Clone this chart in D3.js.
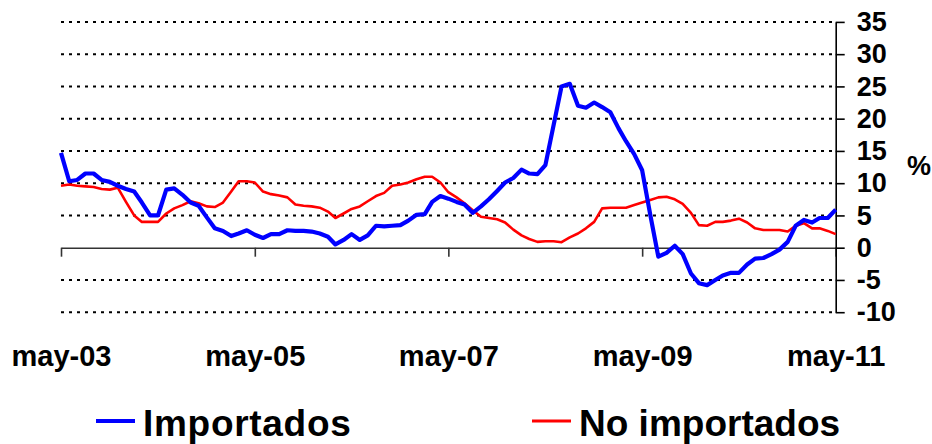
<!DOCTYPE html>
<html>
<head>
<meta charset="utf-8">
<script src="https://cdn.jsdelivr.net/npm/d3@7"></script>
<style>
  html, body { margin: 0; padding: 0; background: #ffffff; }
  svg { display: block; font-family: "Liberation Sans", Arial, sans-serif; }
</style>
</head>
<body>
<svg id="chart" width="932" height="444"></svg>
<script>
// Monthly year-on-year change (%), May 2003 – May 2011
const startMonth = new Date(2003, 4, 1);
const months = d3.timeMonth.range(startMonth, new Date(2011, 5, 1));

const importados = [
  14.7, 10.3, 10.5, 11.5, 11.5, 10.5, 10.2, 9.6, 9.1, 8.7, 7.0, 5.0,
  5.0, 9.0, 9.2, 8.2, 7.0, 6.5, 4.7, 3.0, 2.6, 1.8, 2.2, 2.7,
  2.0, 1.5, 2.1, 2.1, 2.7, 2.6, 2.6, 2.5, 2.2, 1.7, 0.5, 1.2,
  2.1, 1.2, 1.9, 3.4, 3.3, 3.4, 3.5, 4.2, 5.1, 5.2, 7.1, 8.0,
  7.6, 7.1, 6.7, 5.4, 6.4, 7.5, 8.8, 10.1, 10.8, 12.1, 11.5, 11.4,
  12.8, 19.0, 25.0, 25.4, 22.0, 21.7, 22.5, 21.8, 21.0, 18.5, 16.5, 14.5,
  12.0, 5.0, -1.4, -0.8, 0.3, -1.0, -4.0, -5.5, -5.8, -5.0, -4.3, -3.9,
  -3.9, -2.6, -1.7, -1.6, -1.0, -0.3, 0.9, 3.4, 4.3, 3.9, 4.6, 4.6,
  5.9
];

const noImportados = [
  9.6, 9.8, 9.6, 9.5, 9.4, 9.1, 9.0, 9.3, 7.1, 5.0, 4.0, 4.0,
  4.0, 5.3, 6.1, 6.6, 7.2, 6.9, 6.4, 6.3, 7.0, 8.7, 10.3, 10.3,
  10.1, 8.7, 8.3, 8.1, 7.8, 6.7, 6.5, 6.4, 6.2, 5.6, 4.6, 5.3,
  6.0, 6.4, 7.2, 8.0, 8.5, 9.6, 9.8, 10.1, 10.6, 11.0, 11.0, 10.1,
  8.6, 7.8, 6.9, 5.8, 4.8, 4.6, 4.4, 3.9, 2.8, 1.9, 1.35, 0.9,
  1.0, 1.0, 0.85, 1.6, 2.2, 3.0, 4.0, 6.1, 6.2, 6.2, 6.2, 6.6,
  7.0, 7.4, 7.8, 7.9, 7.5, 6.8, 5.4, 3.5, 3.4, 4.0, 4.0, 4.2,
  4.5, 3.9, 3.0, 2.75, 2.75, 2.75, 2.5, 3.4, 3.8, 3.0, 3.0, 2.6,
  2.1
];

const xTickLabels = ["may-03", "may-05", "may-07", "may-09", "may-11"];
const xTickDates = [new Date(2003, 4, 1), new Date(2005, 4, 1), new Date(2007, 4, 1),
                    new Date(2009, 4, 1), new Date(2011, 4, 1)];
const yTicks = [-10, -5, 0, 5, 10, 15, 20, 25, 30, 35];
const seriesNames = ["Importados", "No importados"];
const seriesColors = ["#0000ff", "#ff0000"];

const svg = d3.select("#chart");

const x = d3.scaleTime()
  .domain([months[0], months[months.length - 1]])
  .range([61, 835.7]);

const y = d3.scaleLinear()
  .domain([-10, 35])
  .range([312.2, 21.9]);

// dotted horizontal gridlines
svg.append("g")
  .selectAll("line")
  .data(yTicks.filter(v => v !== 0))
  .join("line")
  .attr("x1", x.range()[0])
  .attr("x2", x.range()[1])
  .attr("y1", d => y(d))
  .attr("y2", d => y(d))
  .attr("stroke", "#000")
  .attr("stroke-width", 2)
  .attr("stroke-dasharray", "3,5");

// horizontal axis at zero
const xAxis = d3.axisBottom(x)
  .tickValues(xTickDates)
  .tickFormat((d, i) => xTickLabels[i])
  .tickSizeInner(9)
  .tickSizeOuter(0)
  .tickPadding(89);

const gx = svg.append("g")
  .attr("transform", `translate(0,${y(0)})`)
  .call(xAxis);
gx.select(".domain").attr("stroke", "#333").attr("stroke-width", 1.6);
gx.selectAll(".tick line").attr("stroke", "#333").attr("stroke-width", 1.6);
gx.selectAll(".tick text")
  .attr("fill", "#000")
  .style("font-size", "29px")
  .style("font-weight", "bold")
  .style("font-family", "'Liberation Sans', Arial, sans-serif");

// right-hand value axis (plain hyphen for negatives)
const yAxis = d3.axisRight(y)
  .tickValues(yTicks)
  .tickFormat(d => String(d))
  .tickSizeInner(9)
  .tickSizeOuter(0)
  .tickPadding(12);

const gy = svg.append("g")
  .attr("transform", `translate(${x.range()[1]},0)`)
  .call(yAxis);
gy.select(".domain").attr("stroke", "#000").attr("stroke-width", 1.6);
gy.selectAll(".tick line").attr("stroke", "#000").attr("stroke-width", 1.6);
gy.selectAll(".tick text")
  .attr("fill", "#000")
  .style("font-size", "27px")
  .style("font-weight", "bold")
  .style("font-family", "'Liberation Sans', Arial, sans-serif");

svg.append("text")
  .attr("x", 907)
  .attr("y", 175)
  .attr("fill", "#000")
  .style("font-size", "27px")
  .style("font-weight", "bold")
  .text("%");

// series lines
const line = d3.line()
  .x((d, i) => x(months[i]))
  .y(d => y(d));

svg.append("path")
  .datum(noImportados)
  .attr("fill", "none")
  .attr("stroke", seriesColors[1])
  .attr("stroke-width", 2.6)
  .attr("stroke-linejoin", "round")
  .attr("d", line);

svg.append("path")
  .datum(importados)
  .attr("fill", "none")
  .attr("stroke", seriesColors[0])
  .attr("stroke-width", 4.2)
  .attr("stroke-linejoin", "round")
  .attr("d", line);

// legend
const legendItems = [
  { name: seriesNames[0], color: seriesColors[0], lx: 96, tx: 143, w: 4, ls: 0.7 },
  { name: seriesNames[1], color: seriesColors[1], lx: 532, tx: 579, w: 3, ls: 0 }
];
const lg = svg.append("g");
legendItems.forEach(it => {
  lg.append("line")
    .attr("x1", it.lx).attr("x2", it.lx + 39)
    .attr("y1", 421).attr("y2", 421)
    .attr("stroke", it.color)
    .attr("stroke-width", it.w);
  lg.append("text")
    .attr("x", it.tx)
    .attr("y", 436)
    .attr("fill", "#000")
    .style("font-size", "37px")
    .style("font-weight", "bold")
    .style("letter-spacing", it.ls + "px")
    .text(it.name);
});
</script>
</body>
</html>
